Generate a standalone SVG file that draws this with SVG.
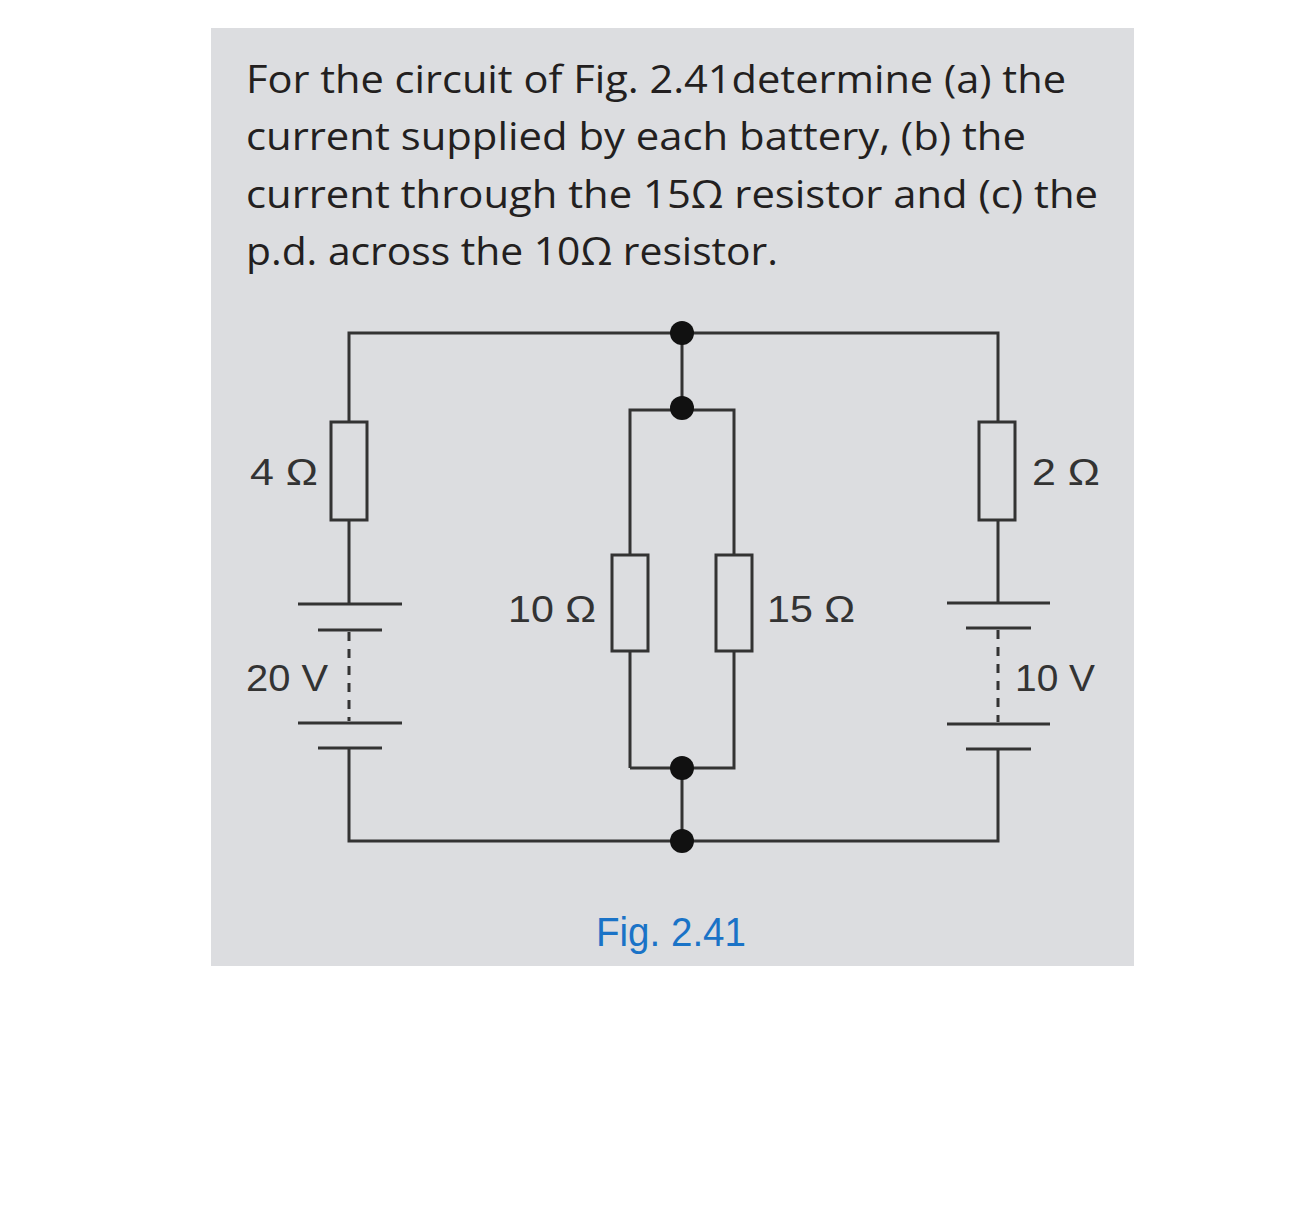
<svg xmlns="http://www.w3.org/2000/svg" width="1290" height="1229" viewBox="0 0 1290 1229">
<style>
.w{stroke:#333;stroke-width:3;fill:none}
.r{stroke:#333;stroke-width:3;fill:#dcdde0}
.d{stroke:#333;stroke-width:3;stroke-dasharray:9,8;fill:none}
.t{font-family:"Open Sans","Liberation Sans",sans-serif;font-size:38px;fill:#231f20}
.l{font-family:"Liberation Sans",Arial,sans-serif;font-size:36px;fill:#333}
</style>
<rect width="1290" height="1229" fill="#fff"/>
<rect x="211" y="28" width="923" height="938" fill="#dcdde0"/>
<g id="title" class="t">
<text x="246" y="93" textLength="820" lengthAdjust="spacingAndGlyphs">For the circuit of Fig. 2.41determine (a) the</text>
<text x="246" y="150" textLength="780" lengthAdjust="spacingAndGlyphs">current supplied by each battery, (b) the</text>
<text x="246" y="208" textLength="852" lengthAdjust="spacingAndGlyphs">current through the 15Ω resistor and (c) the</text>
<text x="246" y="265" textLength="532" lengthAdjust="spacingAndGlyphs">p.d. across the 10Ω resistor.</text>
</g>
<g id="wires" class="w">
<path d="M349 604V333H998V604"/>
<path d="M349 748V841H998V749"/>
<path d="M682 333V408M630 768V410H734V768H630M682 768V841"/>
</g>
<g id="R4"><rect class="r" x="331" y="422" width="36" height="98"/><text class="l" x="250" y="485" textLength="68" lengthAdjust="spacingAndGlyphs">4 Ω</text></g>
<g id="R2"><rect class="r" x="979" y="422" width="36" height="98"/><text class="l" x="1032" y="485" textLength="68" lengthAdjust="spacingAndGlyphs">2 Ω</text></g>
<g id="R10"><rect class="r" x="612" y="555" width="36" height="96"/><text class="l" x="508" y="622" textLength="88" lengthAdjust="spacingAndGlyphs">10 Ω</text></g>
<g id="R15"><rect class="r" x="716" y="555" width="36" height="96"/><text class="l" x="767" y="622" textLength="88" lengthAdjust="spacingAndGlyphs">15 Ω</text></g>
<g id="B20">
<path class="w" d="M298 604H402M318 630H382M298 723H402M318 748H382"/>
<path class="d" d="M349 632V721"/>
<text class="l" x="246" y="691" textLength="82" lengthAdjust="spacingAndGlyphs">20 V</text>
</g>
<g id="B10">
<path class="w" d="M947 603H1050M966 628H1031M947 724H1050M966 749H1031"/>
<path class="d" d="M998 630V722"/>
<text class="l" x="1015" y="691" textLength="80" lengthAdjust="spacingAndGlyphs">10 V</text>
</g>
<g id="dots" fill="#111">
<circle cx="682" cy="333" r="12"/><circle cx="682" cy="408" r="12"/>
<circle cx="682" cy="768" r="12"/><circle cx="682" cy="841" r="12"/>
</g>
<text x="596" y="946" font-family="Liberation Sans Narrow,Liberation Sans,sans-serif" font-size="40" fill="#1a73c7" textLength="150" lengthAdjust="spacingAndGlyphs">Fig. 2.41</text>
</svg>
